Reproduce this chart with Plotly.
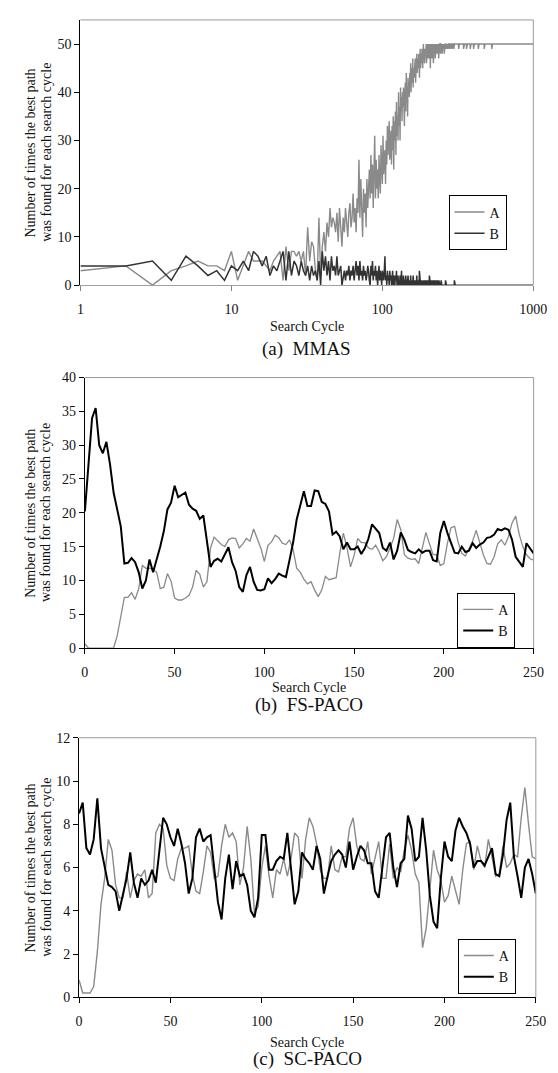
import plotly.graph_objects as go

# ---------------- (a) MMAS : cycles 1..1000 (log axis) ----------------
mmas_cycle = list(range(1, 1001))
mmas_A = ([3, 4, 0, 3, 4, 5, 4, 4, 3, 7,
           1, 4, 7, 5, 5, 5, 4, 3, 5, 6,
           7, 1, 8, 3, 7, 7, 6, 7, 5, 7,
           2, 12, 5, 9, 8, 3, 1, 14, 2, 8,
           11, 7, 13, 10, 16, 12, 14, 13, 11, 15,
           9, 16, 12, 8, 14, 11, 16, 13, 10, 15,
           17, 12, 14, 19, 13, 16, 11, 18, 15, 26,
           14, 22, 17, 10, 20, 15, 19, 12, 22, 16,
           20, 24, 18, 27, 19, 25, 16, 23, 31, 18,
           26, 20, 24, 18, 27, 22, 19, 29, 24, 21,
           31, 23, 26, 28, 21, 30, 25, 33, 27, 31,
           34, 26, 29, 32, 25, 33, 28, 35, 24, 34,
           30, 36, 27, 38, 31, 35, 30, 40, 33, 37,
           30, 41, 36, 39, 34, 40, 37, 41, 38, 33,
           40, 42, 36, 44, 38, 41, 35, 43, 40, 42,
           39, 44, 41, 46, 40, 45, 42, 43, 47, 41,
           45, 43, 46, 44, 47, 42, 46, 45, 48, 44,
           46, 47, 45, 48, 46, 43, 47, 49, 45, 47,
           48, 46, 49, 47, 45, 48, 50, 47, 49, 46,
           48, 47, 49, 48, 50, 46, 49, 48, 50, 47,
           49, 48, 50, 47, 49, 50, 48, 45, 50, 49,
           48, 50, 47, 49, 50, 48, 50, 46, 49, 50,
           48, 50, 49, 47, 50, 49, 50, 48, 50, 49,
           50, 48, 50, 49, 50, 47, 50, 49, 50, 50,
           49, 50, 48, 50, 50, 49, 50, 50, 48, 50,
           50, 50, 49, 50, 50, 50, 48, 50, 50, 49,
           50, 50, 50, 49, 50, 50, 50, 50, 49, 50,
           50, 50, 50, 50, 49, 50, 50, 50, 50, 50,
           50, 49, 50, 50, 50, 50, 50, 50, 49, 50,
           50, 50, 50, 50, 50, 50, 49, 50, 50, 50]
          + [50] * 19 + [49] + [50] * 24 + [49] + [50] * 15 + [49]
          + [50] * 20 + [49] + [50] * 19 + [49] + [50] * 29 + [49]
          + [50] * 40 + [49] + [50] * 27
          + [50] * 29 + [49] + [50] * 470)
mmas_B = ([4, 4, 5, 1, 6, 4, 2, 3, 1, 4,
           3, 5, 3, 7, 6, 4, 6, 2, 4, 3,
           5, 7, 1, 7, 2, 5, 4, 2, 5, 3,
           2, 4, 1, 4, 2, 3, 1, 5, 0, 7,
           3, 6, 2, 5, 1, 6, 3, 4, 2, 6,
           2, 3, 4, 0, 2, 3, 1, 3, 2, 4,
           1, 3, 2, 4, 1, 3, 5, 2, 4, 1,
           5, 2, 3, 1, 4, 2, 3, 1, 2, 4,
           3, 1, 0, 4, 2, 5, 1, 3, 2, 4,
           1, 3, 0, 2, 4, 1, 3, 2, 0, 3,
           2, 1, 3, 6, 1, 2, 0, 3, 1, 2,
           0, 3, 1, 2, 0, 1, 3, 0, 2, 1,
           0, 2, 1, 3, 0, 1, 2, 0, 1, 0,
           2, 0, 1, 3, 0, 1, 0, 2, 1, 0,
           1, 0, 2, 0, 1, 0, 1, 2, 0, 1,
           0, 1, 0, 2, 0, 1, 0, 1, 0, 2,
           0, 1, 0, 1, 0, 0, 1, 0, 2, 0,
           1, 0, 1, 0, 0, 3, 0, 1, 0, 0,
           1, 0, 0, 1, 0, 1, 0, 0, 1, 0,
           0, 1, 0, 0, 1, 0, 0, 1, 0, 0,
           1, 0, 0, 0, 2, 0, 1, 0, 0, 1,
           0, 0, 1, 0, 0, 1, 0, 0, 0, 1,
           0, 0, 0, 1, 0, 0, 1, 0, 0, 0,
           0, 1, 0, 0, 0, 0, 1, 0, 0, 0,
           0, 0, 0, 0, 1, 0, 0, 0, 0, 0]
          + [0] * 11 + [1] + [0] * 37 + [1]
          + [0] * 700)

# ---------------- (b) FS-PACO and (c) SC-PACO : cycles 0..250 ----------------
paco_cycle = list(range(0, 251, 2))

fs_A = [0.6, 0, 0, 0, 0, 0, 0, 0, 0, 1.8,
        4.5, 7.5, 7.5, 8.2, 7.2, 8.8, 12.2, 11.8, 11.8, 11.6,
        11.2, 8.8, 9, 11, 9.9, 7.4, 7.1, 7.1, 7.4, 7.8,
        9, 11.5, 10.9, 9, 9.8, 14.8, 16.4, 15.8, 15.3, 15,
        16, 16.3, 16.2, 14.8, 15.4, 16.2, 15.8, 17.6, 16.3, 14.8,
        12.8, 15.2, 15.7, 16.7, 16.3, 15.5, 15.3, 16, 14.6, 11.8,
        11.2, 10.2, 9.5, 9.8, 8.6, 7.6, 8.6, 10.6, 10.1, 10.3,
        10.4, 14, 17, 14.9, 12, 13.7, 16.2, 15.6, 15.6, 14.8,
        14.6, 15.2, 14.2, 12.9, 13.5, 14.8, 16.2, 19, 17.5, 13.8,
        13.3, 13.1, 13.2, 12.5, 14.8, 17.1, 15.4, 13.8, 13.8, 12.2,
        12.5, 15.5, 17.8, 18, 15.6, 14, 13.6, 14.6, 15.8, 17.4,
        15.5, 13.8, 12.5, 12.4, 13.5, 15.4, 16, 15.2, 16.5, 18.5,
        19.5, 16.8, 15, 13.8, 13.2, 13]
fs_B = [20.2, 27, 34, 35.5, 30, 28.8, 30.5, 27.2, 23, 20.5,
        18, 12.5, 12.6, 13.3, 12.7, 11.2, 8.8, 10, 13.1, 11.2,
        13, 15, 17.3, 20.5, 21.5, 24, 22.3, 22.6, 23, 21.2,
        20.6, 20.3, 19.1, 19.6, 15.5, 12, 12.9, 13.2, 12.8, 13.9,
        14.9, 12.7, 11.4, 9, 8.3, 10.8, 12, 9.8, 8.6, 8.5,
        8.7, 10.3, 9.6, 10.2, 11, 10.7, 10.5, 13, 15.6, 19,
        21.2, 23.2, 21, 21, 23.3, 23.2, 21.6, 21.3, 20.2, 16.8,
        17.2, 16.5, 14.6, 15.6, 14.6, 14.6, 15, 13.9, 14.8, 16.2,
        18.3, 17.6, 17, 14.8, 14.4, 15.6, 13.1, 14.4, 17.1, 16,
        14.5, 14.2, 14, 14.6, 14.1, 14.4, 14.4, 13, 12.8, 17,
        18.8, 17, 15.4, 14.1, 14, 15, 14.2, 14.4, 15.5, 14.8,
        15.3, 15.6, 16.3, 16.4, 16.8, 17.6, 17.4, 17.7, 17.5, 16,
        13.5, 12.8, 12, 15.5, 14.8, 14]

sc_A = [0.8, 0.2, 0.2, 0.2, 0.5, 2.1, 4.3, 5.5, 7.3, 6.8,
        5.2, 4.6, 4.6, 5.8, 4.6, 5.4, 5.7, 5.6, 5.9, 4.6,
        4.8, 7.6, 8.0, 7.8, 6.1, 5.5, 5.4, 6.4, 6.9, 6.9,
        7.0, 5.7, 4.9, 4.8, 5.8, 7.0, 6.7, 5.5, 5.6, 7.0,
        8.0, 7.4, 7.6, 7.2, 5.2, 6.0, 7.9, 6.4, 3.9, 4.2,
        6.0, 7.0, 5.6, 4.6, 5.9, 5.7, 6.4, 5.6, 6.4, 7.6,
        7.4, 5.5, 7.3, 8.3, 7.9, 7.1, 5.9, 5.5, 5.5, 7.0,
        5.9, 5.8, 6.5, 6.5, 7.8, 8.3, 7.0, 6.4, 6.3, 7.2,
        5.7, 6.5, 7.2, 5.5, 5.5, 7.1, 5.5, 6.0, 5.8, 6.8,
        7.5, 6.8, 5.7, 5.3, 2.3, 3.2, 5.2, 6.8, 5.9, 5.4,
        4.4, 4.7, 5.6, 4.9, 4.3, 5.9, 7.1, 7.2, 5.9, 7.0,
        6.3, 6.0, 7.3, 6.5, 5.6, 5.7, 7.0, 6.0, 6.2, 6.6,
        6.5, 8.3, 9.7, 8.0, 6.5, 6.4]
sc_B = [8.5, 9.0, 6.9, 6.6, 7.3, 9.2, 6.9, 6.0, 5.2, 5.1,
        4.9, 4.0, 4.7, 5.5, 6.7, 5.3, 4.6, 5.5, 5.2, 5.4,
        5.9, 5.3, 6.8, 8.3, 8.0, 7.4, 7.0, 7.8, 7.1, 6.2,
        4.8, 5.5, 7.4, 7.8, 7.2, 7.4, 7.5, 5.8, 4.4, 3.6,
        5.5, 6.6, 5.0, 6.3, 5.6, 5.7, 5.2, 4.0, 3.7, 4.6,
        7.5, 7.5, 5.9, 5.9, 6.3, 6.5, 6.4, 7.6, 5.9, 4.3,
        4.9, 6.7, 6.4, 6.2, 5.9, 7.0, 6.4, 4.8, 5.6, 6.3,
        6.6, 6.8, 6.6, 6.0, 7.2, 5.9, 6.5, 7.0, 6.8, 6.2,
        6.2, 4.9, 4.6, 6.0, 7.4, 7.6, 6.0, 5.1, 6.2, 6.4,
        8.4, 7.8, 6.3, 6.5, 8.3, 6.8, 4.7, 3.5, 3.2, 5.5,
        7.2, 6.5, 6.3, 7.7, 8.3, 7.9, 7.6, 7.1, 6.0, 6.3,
        6.3, 6.1, 6.5, 6.9, 5.7, 5.6, 6.6, 8.2, 9.0, 6.5,
        5.6, 4.6, 6.0, 6.4, 5.7, 4.8]

series_names = ["A", "B"]
captions = ["(a)\u00a0\u00a0MMAS", "(b)\u00a0\u00a0FS-PACO", "(c)\u00a0\u00a0SC-PACO"]
ytitle_lines = ["Number of times the best path", "was found for each search cycle"]
xtitle = "Search Cycle"

# ---------------- styling / layout ----------------
W, H = 558, 1073
FONT = "Liberation Serif, Times New Roman, serif"
GREY = "#8a8a8a"
FRAME = "#9a9a9a"

def px_x(p):
    return p / W

def px_y(p):
    return 1 - p / H

# plot area boxes in pixels: left, right, top, bottom
boxes = [(70.7, 538.7, 5, 274), (75.3, 539.0, 367.7, 642.0), (69.3, 541.3, 733.0, 996.3)]

fig = go.Figure()

panel_data = [
    (mmas_cycle, mmas_A, mmas_B, 1.4, 1.5, "#333333"),
    (paco_cycle, fs_A, fs_B, 1.3, 2.0, "#000000"),
    (paco_cycle, sc_A, sc_B, 1.4, 2.0, "#000000"),
]
legend_ids = ["legend", "legend2", "legend3"]
for i, (xs, ya, yb, wa, wb, cb) in enumerate(panel_data):
    sfx = "" if i == 0 else str(i + 1)
    fig.add_trace(go.Scatter(x=xs, y=ya, mode="lines", name=series_names[0],
                             line=dict(color=GREY, width=wa),
                             xaxis="x" + sfx, yaxis="y" + sfx, legend=legend_ids[i]))
    fig.add_trace(go.Scatter(x=xs, y=yb, mode="lines", name=series_names[1],
                             line=dict(color=cb, width=wb),
                             xaxis="x" + sfx, yaxis="y" + sfx, legend=legend_ids[i]))

tickfont = dict(family=FONT, size=14, color="#111111")
common_y = dict(showline=True, linecolor="#000000", linewidth=1, ticks="outside",
                ticklen=5, tickcolor="#000000", showgrid=False, zeroline=False,
                tickfont=tickfont)
common_x = dict(showline=True, linewidth=1, ticks="outside", ticklen=5,
                showgrid=False, zeroline=False, tickfont=tickfont,
                ticklabelstandoff=6)

layout = dict(width=W, height=H, margin=dict(l=0, r=0, t=0, b=0),
              paper_bgcolor="white", plot_bgcolor="white", showlegend=True,
              font=dict(family=FONT, size=14, color="#111111"))

yranges = [[0, 55], [0, 40], [0, 12]]
ydticks = [10, 5, 2]
for i, (l, r, t, b) in enumerate(boxes):
    sfx = "" if i == 0 else str(i + 1)
    xd = [px_x(l), px_x(r)]
    yd = [px_y(b), px_y(t)]
    xa = dict(common_x, domain=xd, anchor="y" + sfx)
    if i == 0:
        xa.update(type="log", range=[0, 3], tickvals=[1, 10, 100, 1000],
                  ticktext=["1", "10", "100", "1000"], linecolor="#a0a0a0",
                  tickcolor="#808080")
    else:
        xa.update(range=[0, 250], dtick=50, tick0=0, linecolor="#000000",
                  tickcolor="#000000")
    ya = dict(common_y, domain=yd, anchor="x" + sfx, range=yranges[i],
              dtick=ydticks[i], tick0=0)
    layout["xaxis" + sfx] = xa
    layout["yaxis" + sfx] = ya

legend_pos = [(511, 183), (520, 586), (520.6, 937)]
for i, (lx, ly) in enumerate(legend_pos):
    layout[legend_ids[i]] = dict(x=px_x(lx), y=px_y(ly), xanchor="right", yanchor="top",
                                 bordercolor="#000000", borderwidth=1, bgcolor="white",
                                 font=dict(family=FONT, size=14, color="#111111"),
                                 itemwidth=30, tracegroupgap=0)

fig.update_layout(**layout)

shapes = []
annotations = []
xt_y = [316, 681.7, 1041.7]
cap_y = [339, 700, 1059]
for i in range(3):
    sfx = "" if i == 0 else str(i + 1)
    xr = "x" + sfx + " domain"
    yr = "y" + sfx + " domain"
    shapes.append(dict(type="line", xref=xr, yref=yr, x0=0, x1=1, y0=1, y1=1,
                       line=dict(color=FRAME, width=1)))
    shapes.append(dict(type="line", xref=xr, yref=yr, x0=1, x1=1, y0=0, y1=1,
                       line=dict(color=FRAME, width=1)))
    for j, xp in enumerate([19.6, 35.4]):
        annotations.append(dict(text=ytitle_lines[j], xref="paper", yref=yr,
                                x=px_x(xp), y=0.5, textangle=-90, showarrow=False,
                                xanchor="center", yanchor="middle",
                                font=dict(family=FONT, size=14, color="#111111")))
    annotations.append(dict(text=xtitle, xref=xr, yref="paper", x=0.5, y=px_y(xt_y[i]),
                            showarrow=False, xanchor="center", yanchor="middle",
                            font=dict(family=FONT, size=14, color="#111111")))
    annotations.append(dict(text=captions[i], xref=xr, yref="paper", x=0.5, y=px_y(cap_y[i]),
                            showarrow=False, xanchor="center", yanchor="middle",
                            font=dict(family=FONT, size=19, color="#111111")))

fig.update_layout(shapes=shapes, annotations=annotations)
fig.write_html("out.html")
